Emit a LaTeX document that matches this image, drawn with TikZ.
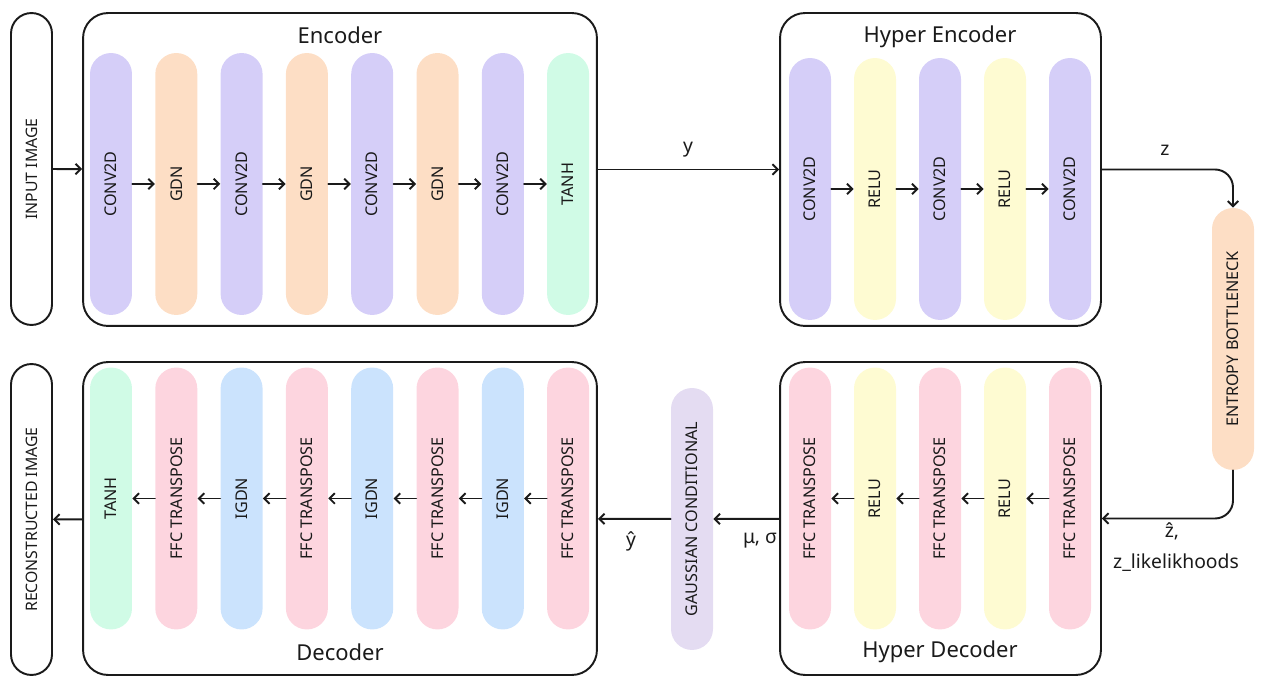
\documentclass[tikz,border=0pt]{standalone}
\usepackage{fontspec}
\setmainfont{Noto Sans}
\usetikzlibrary{arrows.meta}

\definecolor{convcol}{HTML}{D5CEF8}
\definecolor{gdncol}{HTML}{FDDEC5}
\definecolor{tanhcol}{HTML}{D0FBE6}
\definecolor{relucol}{HTML}{FEFBD2}
\definecolor{ffccol}{HTML}{FDD5DF}
\definecolor{igdncol}{HTML}{CBE3FD}
\definecolor{gausscol}{HTML}{E4DCF2}
\definecolor{inkcol}{HTML}{1A1A1A}

\tikzset{
  pill/.style={fill=#1, rounded corners=0.42cm, minimum width=0.84cm,
    minimum height=5.24cm, inner sep=0pt, text=inkcol,
    font=\fontsize{9.2}{10}\selectfont},
  iobox/.style={draw=inkcol, line width=1.1pt, rounded corners=0.41cm,
    minimum width=0.82cm, inner sep=0pt, text=inkcol,
    font=\fontsize{9}{11}\selectfont},
  group/.style={draw=inkcol, line width=1.1pt, rounded corners=0.5cm, inner sep=0pt},
  flow/.style={-{Straight Barb[length=3pt,width=6pt]}, line width=1.1pt, draw=inkcol},
  lbl/.style={text=inkcol, font=\fontsize{11}{13}\selectfont},
  grouptitle/.style={text=inkcol, font=\fontsize{12.5}{14}\selectfont}
}

\begin{document}
\begin{tikzpicture}[x=0.02cm, y=-0.02cm, line cap=round, line join=round]
  \useasboundingbox (0,0) rectangle (1265,688);

  % outer blocks
  \node (enc) [group, minimum width=10.28cm, minimum height=6.26cm] at (340,169.5) {};
  \node (henc) [group, minimum width=6.42cm, minimum height=6.26cm] at (940.5,169.5) {};
  \node (dec) [group, minimum width=10.28cm, minimum height=6.26cm] at (340,518.5) {};
  \node (hdec) [group, minimum width=6.42cm, minimum height=6.26cm] at (940.5,518.5) {};
  \node (encT) [grouptitle] at (340,35) {Encoder};
  \node (hencT) [grouptitle] at (940,37) {Hyper Encoder};
  \node (decT) [grouptitle] at (340,652) {Decoder};
  \node (hdecT) [grouptitle] at (940,652) {Hyper Decoder};

  % input / output images
  \node (inimg) [iobox, minimum height=6.24cm] at (31.5,169) {\rotatebox{90}{INPUT IMAGE}};
  \node (outimg) [iobox, minimum height=6.22cm] at (31.5,519.5) {\rotatebox{90}{RECONSTRUCTED IMAGE}};

  % encoder layers
  \foreach \txt/\col [count=\i] in {CONV2D/convcol, GDN/gdncol, CONV2D/convcol, GDN/gdncol,
      CONV2D/convcol, GDN/gdncol, CONV2D/convcol, TANH/tanhcol}
    \node (e\i) [pill=\col] at ({111+65.3*(\i-1)},184) {\rotatebox{90}{\txt}};
  \foreach \i [remember=\i as \prev (initially 1)] in {2,...,8}
    \draw[flow] (e\prev) -- (e\i);

  % hyper encoder layers
  \foreach \txt/\col [count=\i] in {CONV2D/convcol, RELU/relucol, CONV2D/convcol,
      RELU/relucol, CONV2D/convcol}
    \node (he\i) [pill=\col] at ({810+65*(\i-1)},189) {\rotatebox{90}{\txt}};
  \foreach \i [remember=\i as \prev (initially 1)] in {2,...,5}
    \draw[flow] (he\prev) -- (he\i);

  % decoder layers
  \foreach \txt/\col [count=\i] in {TANH/tanhcol, FFC TRANSPOSE/ffccol, IGDN/igdncol,
      FFC TRANSPOSE/ffccol, IGDN/igdncol, FFC TRANSPOSE/ffccol, IGDN/igdncol,
      FFC TRANSPOSE/ffccol}
    \node (d\i) [pill=\col] at ({111+65.3*(\i-1)},498.5) {\rotatebox{90}{\txt}};
  \foreach \i [remember=\i as \prev (initially 1)] in {2,...,8}
    \draw[flow] (d\i) -- (d\prev);

  % hyper decoder layers
  \foreach \txt/\col [count=\i] in {FFC TRANSPOSE/ffccol, RELU/relucol,
      FFC TRANSPOSE/ffccol, RELU/relucol, FFC TRANSPOSE/ffccol}
    \node (hd\i) [pill=\col] at ({810+65*(\i-1)},498.5) {\rotatebox{90}{\txt}};
  \foreach \i [remember=\i as \prev (initially 1)] in {2,...,5}
    \draw[flow] (hd\i) -- (hd\prev);

  % bottleneck and conditional
  \node (eb) [pill=gdncol] at (1233,339) {\rotatebox{90}{ENTROPY BOTTLENECK}};
  \node (gc) [pill=gausscol] at (692,519) {\rotatebox{90}{GAUSSIAN CONDITIONAL}};

  % main flow
  \draw[flow] (inimg) -- (enc);
  \draw[flow] (enc) -- (henc);
  \draw[flow, rounded corners=0.36cm] (henc.east) -| (eb.north);
  \draw[flow, rounded corners=0.36cm] (eb.south) |- (hdec.east);
  \draw[flow] (hdec) -- (gc);
  \draw[flow] (gc) -- (dec);
  \draw[flow] (dec) -- (outimg);

  % flow labels
  \node (ylbl) [lbl] at (688,150) {y};
  \node (zlbl) [lbl] at (1165,150) {z};
  \node (zhlbl) [lbl] at (1172,531) {ẑ,};
  \node (zlik) [lbl] at (1176,563) {z\_likelikhoods};
  \node (musig) [lbl] at (760,541) {μ, σ};
  \node (yhlbl) [lbl] at (631,541) {ŷ};
\end{tikzpicture}
\end{document}
